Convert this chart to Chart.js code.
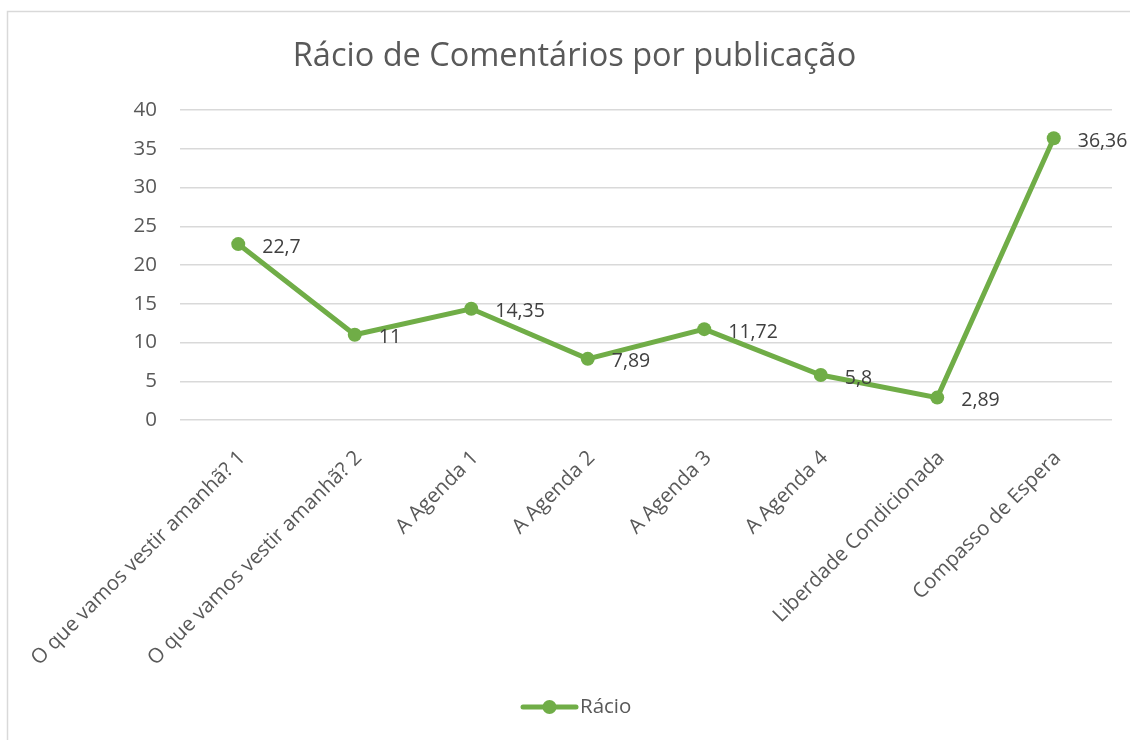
<!DOCTYPE html>
<html lang="pt">
<head>
<meta charset="utf-8">
<title>Rácio de Comentários por publicação</title>
<script src="https://cdn.jsdelivr.net/npm/chart.js@4/dist/chart.umd.min.js"></script>
<style>
    html, body { margin: 0; padding: 0; background: #ffffff; overflow: hidden; }
    #grafico { display: block; }
</style>
</head>
<body>
<canvas id="grafico" width="1130" height="740"></canvas>
<script>
// Dados do gráfico
const categorias = [
    'O que vamos vestir amanhã? 1',
    'O que vamos vestir amanhã? 2',
    'A Agenda 1',
    'A Agenda 2',
    'A Agenda 3',
    'A Agenda 4',
    'Liberdade Condicionada',
    'Compasso de Espera'
];
const racio = [22.7, 11, 14.35, 7.89, 11.72, 5.8, 2.89, 36.36];
const yTicks = [0, 5, 10, 15, 20, 25, 30, 35, 40];
const titulo = 'Rácio de Comentários por publicação';
const nomeSerie = 'Rácio';

const verde = '#70AD47';
const cinzaTexto = '#595959';
const fonte = '"Open Sans", "DejaVu Sans", sans-serif';

// Moldura cinzenta e título (centrado como no Excel)
const moldura = {
    id: 'moldura',
    beforeDraw(chart) {
        const ctx = chart.ctx;
        ctx.save();
        ctx.strokeStyle = '#d9d9d9';
        ctx.lineWidth = 1.5;
        ctx.strokeRect(7.5, 11.5, 1300, 900);
        ctx.font = '32.5px ' + fonte;
        ctx.fillStyle = cinzaTexto;
        ctx.textAlign = 'center';
        ctx.textBaseline = 'middle';
        ctx.fillText(titulo, 574.5, 57);
        ctx.restore();
    }
};

// Rótulos de dados à direita de cada ponto
const rotulosDados = {
    id: 'rotulosDados',
    afterDatasetsDraw(chart) {
        const ctx = chart.ctx;
        const meta = chart.getDatasetMeta(0);
        ctx.save();
        ctx.font = '19.5px ' + fonte;
        ctx.fillStyle = '#404040';
        ctx.textAlign = 'left';
        ctx.textBaseline = 'middle';
        meta.data.forEach((pt, i) => {
            const txt = String(racio[i]).replace('.', ',');
            ctx.fillText(txt, pt.x + 24, pt.y + 3);
        });
        ctx.restore();
    }
};

// Legenda: linha com marcador redondo e o nome da série
const legendaSerie = {
    id: 'legendaSerie',
    afterDraw(chart) {
        const ds = chart.data.datasets[0];
        const ctx = chart.ctx;
        const y = 707;
        ctx.save();
        ctx.strokeStyle = ds.borderColor;
        ctx.lineWidth = 5;
        ctx.lineCap = 'round';
        ctx.beginPath();
        ctx.moveTo(523, y);
        ctx.lineTo(576, y);
        ctx.stroke();
        ctx.fillStyle = ds.borderColor;
        ctx.beginPath();
        ctx.arc(549.5, y, 7, 0, Math.PI * 2);
        ctx.fill();
        ctx.font = '20.5px ' + fonte;
        ctx.fillStyle = cinzaTexto;
        ctx.textAlign = 'left';
        ctx.textBaseline = 'middle';
        ctx.fillText(ds.label, 580, y);
        ctx.restore();
    }
};

const ctx = document.getElementById('grafico');
const grafico = new Chart(ctx.getContext('2d'), {
    type: 'line',
    data: {
        labels: categorias,
        datasets: [{
            label: nomeSerie,
            data: racio,
            borderColor: verde,
            backgroundColor: verde,
            borderWidth: 5,
            pointRadius: 7,
            pointBackgroundColor: verde,
            pointBorderColor: verde,
            pointBorderWidth: 0,
            tension: 0,
            fill: false
        }]
    },
    options: {
        responsive: false,
        animation: false,
        layout: {
            padding: { left: 0, right: 18, top: 110, bottom: 60 }
        },
        plugins: {
            title: { display: false },
            legend: { display: false },
            tooltip: { enabled: false }
        },
        scales: {
            x: {
                offset: true,
                grid: { display: false },
                border: { display: false },
                ticks: {
                    color: cinzaTexto,
                    font: { family: fonte, size: 20.5 },
                    minRotation: 45,
                    maxRotation: 45,
                    autoSkip: false,
                    labelOffset: 4,
                    padding: 18
                },
                afterFit(scale) {
                    scale.height = 260;
                }
            },
            y: {
                min: 0,
                max: 40,
                grid: {
                    color: '#d9d9d9',
                    lineWidth: 1.5,
                    drawTicks: false
                },
                border: { display: false },
                afterBuildTicks(scale) {
                    scale.ticks = yTicks.map(v => ({ value: v }));
                },
                ticks: {
                    color: cinzaTexto,
                    font: { family: fonte, size: 20.5 },
                    padding: 23
                },
                afterFit(scale) {
                    scale.width = 180;
                }
            }
        }
    },
    plugins: [moldura, rotulosDados, legendaSerie]
});
</script>
</body>
</html>
